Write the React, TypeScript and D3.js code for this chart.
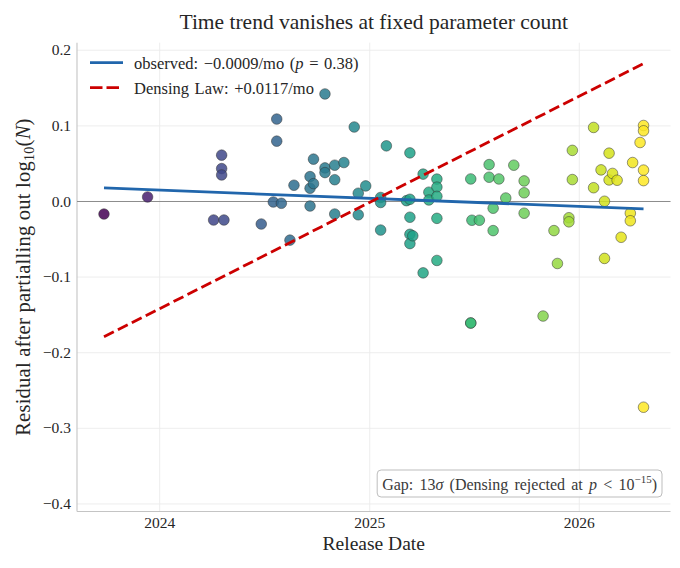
import React, { useLayoutEffect, useRef, useState } from "react";
import * as d3 from "d3";

// ---- data ----
const releaseDates = [
  "2023-09-26", "2023-12-11", "2024-04-04", "2024-04-22", "2024-04-18", "2024-04-18", "2024-04-18",
  "2024-06-26", "2024-07-17", "2024-07-23", "2024-07-23", "2024-07-31", "2024-08-15", "2024-08-22",
  "2024-09-19", "2024-09-19", "2024-09-19", "2024-09-25", "2024-09-25", "2024-10-15", "2024-10-15",
  "2024-10-15", "2024-11-01", "2024-11-01", "2024-11-01", "2024-11-17", "2024-12-05", "2024-12-12",
  "2024-12-12", "2024-12-25", "2025-01-20", "2025-01-20", "2025-01-20", "2025-01-30", "2025-03-06",
  "2025-03-12", "2025-03-12", "2025-03-12", "2025-03-12", "2025-03-12", "2025-03-17", "2025-04-04",
  "2025-04-04", "2025-04-14", "2025-04-14", "2025-04-28", "2025-04-28", "2025-04-28", "2025-04-28",
  "2025-04-28", "2025-06-26", "2025-06-26", "2025-06-26", "2025-06-28", "2025-07-11", "2025-07-28",
  "2025-07-28", "2025-08-04", "2025-08-04", "2025-08-14", "2025-08-26", "2025-09-09", "2025-09-27",
  "2025-09-27", "2025-09-27", "2025-10-30", "2025-11-18", "2025-11-24", "2025-12-14", "2025-12-14",
  "2025-12-20", "2025-12-20", "2026-01-26", "2026-01-26", "2026-02-08", "2026-02-14", "2026-02-14",
  "2026-02-22", "2026-02-22", "2026-02-28", "2026-03-08", "2026-03-15", "2026-03-31", "2026-03-31",
  "2026-04-04", "2026-04-17", "2026-04-23", "2026-04-23", "2026-04-23", "2026-04-23", "2026-04-23",
];

const residuals = [
  -0.0166, 0.006, -0.0245, -0.0245, 0.0613, 0.0435, 0.0351,
  -0.0298, -0.0007, 0.109, 0.0798, -0.0024, -0.0511, 0.0215,
  -0.006, 0.0329, 0.0175, 0.0236, 0.056, 0.1422, 0.0444,
  0.0382, 0.048, 0.0288, -0.0166, 0.0515, 0.0985, 0.0109,
  -0.0176, 0.0206, 0.0053, -0.0013, -0.0378, 0.0736, 0.0011,
  0.0643, 0.0029, -0.0208, -0.0434, -0.0557, -0.0454, 0.0362,
  -0.0944, 0.0123, 0.002, 0.0296, 0.019, 0.0068, -0.0223,
  -0.078, 0.0298, -0.1607, -0.1607, -0.0248, -0.0248, 0.0488,
  0.0321, -0.0089, -0.0385, 0.0298, 0.0046, 0.048, 0.0272,
  0.0115, -0.0155, -0.1515, -0.0385, -0.082, -0.0215, -0.0269,
  0.0676, 0.029, 0.0979, 0.0182, 0.0418, 0.0003, -0.0753,
  0.0639, 0.0285, 0.0371, 0.0281, -0.0473, -0.0155, -0.0255,
  0.0515, 0.078, 0.1005, 0.0935, 0.0415, 0.0276, -0.2721,
];

const yTicks = [-0.4, -0.3, -0.2, -0.1, 0.0, 0.1, 0.2];
const yDomain = [-0.41, 0.21];
const xTickYears = ["2024-01-01", "2025-01-01", "2026-01-01"];

// fitted trends: slope per month and value at the first release date
const fitKeys = ["observed", "densing"];
const fitSlopesPerMonth = [-0.0009, 0.0117];
const fitStartValues = [0.0179, -0.179];
const fitColors = ["#2166ac", "#cc0000"];

const W = 680;
const H = 568;
const M = { left: 77, right: 670.5, top: 42.7, bottom: 511.5 };
const FONT = "'Liberation Serif', 'Times New Roman', serif";

export default function App() {
  const parse = d3.utcParse("%Y-%m-%d");
  const dates = releaseDates.map((d) => parse(d) as Date);
  const [d0, d1] = d3.extent(dates) as [Date, Date];
  const pad = (+d1 - +d0) * 0.05;
  const x = d3
    .scaleUtc()
    .domain([new Date(+d0 - pad), new Date(+d1 + pad)])
    .range([M.left, M.right]);
  const y = d3.scaleLinear().domain(yDomain).range([M.bottom, M.top]);
  const color = d3.scaleSequential(d3.interpolateViridis).domain([+d0, +d1]);
  const MONTH = 30.4375 * 24 * 3600 * 1000;
  const months = (+d1 - +d0) / MONTH;

  const xTicks = xTickYears.map((s) => parse(s) as Date);
  const fmtY = (v: number) => d3.format(".1f")(v).replace("-", "\u2212");

  const line = d3
    .line<[Date, number]>()
    .x((d) => x(d[0]))
    .y((d) => y(d[1]));

  const fits = fitKeys.map((k, i) => ({
    key: k,
    color: fitColors[i],
    path: line([
      [d0, fitStartValues[i]],
      [d1, fitStartValues[i] + fitSlopesPerMonth[i] * months],
    ]) as string,
  }));

  const points = dates
    .map((d, i) => ({ d, v: residuals[i] }))
    .sort((a, b) => +a.d - +b.d);

  // annotation box sized from its text
  const annRef = useRef<SVGTextElement>(null);
  const [annBox, setAnnBox] = useState({ x: 375.7, y: 470.7, w: 287.6, h: 27 });
  useLayoutEffect(() => {
    if (annRef.current) {
      const b = annRef.current.getBBox();
      setAnnBox({ x: b.x - 5, y: b.y - 3, w: b.width + 10, h: b.height + 6 });
    }
  }, []);

  const textCol = "#262626";

  return (
    <svg
      width={W}
      height={H}
      style={{ position: "absolute", left: 0, top: 0, background: "#fff" }}
      fontFamily={FONT}
    >
      <rect x={0} y={0} width={W} height={H} fill="#fff" />
      {/* grid */}
      <g stroke="#ebebeb" strokeWidth={0.9}>
        {yTicks.map((t) => (
          <line key={"gy" + t} x1={M.left} x2={M.right} y1={y(t)} y2={y(t)} />
        ))}
        {xTicks.map((t) => (
          <line key={"gx" + +t} x1={x(t)} x2={x(t)} y1={M.top} y2={M.bottom} />
        ))}
      </g>
      {/* spines */}
      <g stroke="#c4c4c4" strokeWidth={1.1}>
        <line x1={M.left} x2={M.left} y1={M.top} y2={M.bottom} />
        <line x1={M.left} x2={M.right} y1={M.bottom} y2={M.bottom} />
      </g>
      {/* zero line */}
      <line x1={M.left} x2={M.right} y1={y(0)} y2={y(0)} stroke="#8c8c8c" strokeWidth={1} />

      {/* points */}
      <g>
        {points.map((p, i) => (
          <circle
            key={i}
            cx={x(p.d)}
            cy={y(p.v)}
            r={5.3}
            fill={color(+p.d)}
            fillOpacity={0.85}
            stroke="#333"
            strokeOpacity={0.85}
            strokeWidth={0.6}
          />
        ))}
      </g>

      {/* fit lines */}
      {fits.map((f, i) => (
        <path
          key={f.key}
          d={f.path}
          fill="none"
          stroke={f.color}
          strokeWidth={2.8}
          strokeDasharray={i === 1 ? "11,4.6" : undefined}
        />
      ))}

      {/* y tick labels */}
      <g fontSize={15.5} fill={textCol} textAnchor="end">
        {yTicks.map((t) => (
          <text key={"yl" + t} x={71} y={y(t)} dy="0.33em">
            {fmtY(t)}
          </text>
        ))}
      </g>
      {/* x tick labels */}
      <g fontSize={15.5} fill={textCol} textAnchor="middle">
        {xTicks.map((t) => (
          <text key={"xl" + +t} x={x(t)} y={528}>
            {d3.utcFormat("%Y")(t)}
          </text>
        ))}
      </g>

      {/* axis labels */}
      <text x={(M.left + M.right) / 2} y={550} fontSize={19.5} textAnchor="middle" fill={textCol}>
        Release Date
      </text>
      <text
        transform={`translate(29.5,${(M.top + M.bottom) / 2}) rotate(-90)`}
        fontSize={20.5}
        letterSpacing={0.25}
        textAnchor="middle"
        fill={textCol}
      >
        Residual after partialling out log
        <tspan fontSize={14} dy={4}>10</tspan>
        <tspan dy={-4}>(</tspan>
        <tspan fontStyle="italic">N</tspan>)
      </text>

      {/* title */}
      <text x={(M.left + M.right) / 2} y={29} fontSize={21.5} textAnchor="middle" fill={textCol}>
        Time trend vanishes at fixed parameter count
      </text>

      {/* legend */}
      <g>
        <line x1={90} x2={123} y1={62.7} y2={62.7} stroke={fitColors[0]} strokeWidth={2.8} />
        <line
          x1={90}
          x2={123}
          y1={87.7}
          y2={87.7}
          stroke={fitColors[1]}
          strokeWidth={2.8}
          strokeDasharray="12.5,4"
        />
        <text x={134} y={68.5} fontSize={16.5} wordSpacing={1.5} fill={textCol}>
          observed: {"\u2212"}0.0009/mo (<tspan fontStyle="italic">p</tspan> = 0.38)
        </text>
        <text x={134} y={93.5} fontSize={16.5} wordSpacing={1.5} fill={textCol}>
          Densing Law: +0.0117/mo
        </text>
      </g>

      {/* annotation */}
      <rect
        x={annBox.x}
        y={annBox.y}
        width={annBox.w}
        height={annBox.h}
        rx={4}
        fill="#fff"
        fillOpacity={0.85}
        stroke="#bdbdbd"
        strokeWidth={1}
      />
      <text
        ref={annRef}
        x={657}
        y={490}
        fontSize={16}
        wordSpacing={2.2}
        textAnchor="end"
        fill="#3a3a3a"
      >
        Gap: 13<tspan fontStyle="italic">σ</tspan> (Densing rejected at{" "}
        <tspan fontStyle="italic">p</tspan> {"<"} 10
        <tspan fontSize={11} dy={-7}>{"\u2212"}15</tspan>
        <tspan dy={7}>)</tspan>
      </text>
    </svg>
  );
}
